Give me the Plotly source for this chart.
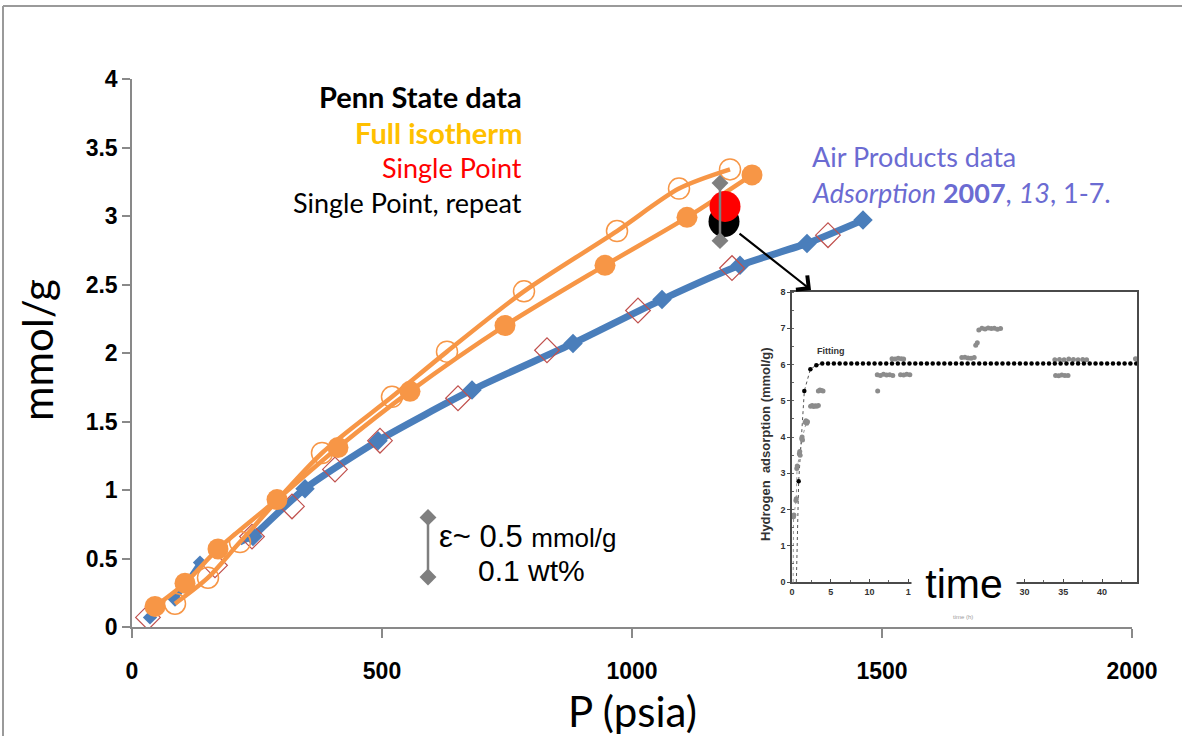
import plotly.graph_objects as go

# ---------------- main chart data ----------------
# Penn State full isotherm (filled orange = adsorption, open orange = desorption)
ps_ads_p = [46, 106, 172, 290, 412, 556, 746, 946, 1110, 1240]
ps_ads_q = [0.15, 0.32, 0.57, 0.93, 1.31, 1.72, 2.20, 2.64, 2.99, 3.30]
ps_des_p = [86, 152, 216, 380, 520, 630, 784, 970, 1094, 1196]
ps_des_q = [0.17, 0.36, 0.62, 1.27, 1.68, 2.01, 2.45, 2.89, 3.20, 3.34]

# Air Products data (filled blue diamonds, open red diamonds)
ap_p = [36, 86, 136, 242, 346, 492, 680, 882, 1060, 1216, 1350, 1462]
ap_q = [0.07, 0.20, 0.47, 0.66, 1.01, 1.36, 1.73, 2.07, 2.39, 2.64, 2.80, 2.97]
ap2_p = [32, 166, 240, 320, 406, 496, 652, 830, 1012, 1200, 1392]
ap2_q = [0.07, 0.45, 0.66, 0.88, 1.15, 1.36, 1.67, 2.02, 2.31, 2.62, 2.86]

# single point measurements
sp_p = [1186]
sp_q = [3.07]
spr_p = [1184]
spr_q = [2.96]

# error bars
err_p = [1176, 1176]
err_q = [2.82, 3.24]
eps_p = [592, 592]
eps_q = [0.365, 0.80]

x_ticks = [0, 500, 1000, 1500, 2000]
y_ticks = [0, 0.5, 1, 1.5, 2, 2.5, 3, 3.5, 4]

# ---------------- inset data (time series) ----------------
fit_t = [0.86, 1.59, 2.37, 3.14, 3.9, 4.65, 5.4, 6.15, 6.9, 7.65, 8.4, 9.15, 9.9, 10.65,
         11.4, 12.15, 12.9, 13.65, 14.4, 15.15, 15.9, 16.65, 17.4, 18.15, 18.9, 19.65,
         20.4, 21.15, 21.9, 22.65, 23.4, 24.15, 24.9, 25.65, 26.4, 27.15, 27.9, 28.65,
         29.4, 30.15, 30.9, 31.65, 32.4, 33.15, 33.9, 34.65, 35.4, 36.15, 36.9, 37.65,
         38.4, 39.15, 39.9, 40.65, 41.4, 42.15, 42.9, 43.65, 44.4]
fit_q = [2.78, 5.27, 5.87, 5.98, 6.03, 6.03, 6.03, 6.03, 6.03, 6.03, 6.03, 6.03, 6.03, 6.03,
         6.03, 6.03, 6.03, 6.03, 6.03, 6.03, 6.03, 6.03, 6.03, 6.03, 6.03, 6.03,
         6.03, 6.03, 6.03, 6.03, 6.03, 6.03, 6.03, 6.03, 6.03, 6.03, 6.03, 6.03,
         6.03, 6.03, 6.03, 6.03, 6.03, 6.03, 6.03, 6.03, 6.03, 6.03, 6.03, 6.03,
         6.03, 6.03, 6.03, 6.03, 6.03, 6.03, 6.03, 6.03, 6.03]
fit_line_t = [0.56, 0.86, 1.59, 2.37, 3.14, 3.9]
fit_line_q = [0.0, 2.78, 5.27, 5.87, 5.98, 6.03]

meas_t = [0.2, 0.25, 0.5, 0.55, 0.62, 0.68, 0.95, 1.0, 1.05, 1.25, 1.3, 1.35,
          1.7, 1.8, 1.9, 2.0, 2.4, 2.6, 2.8, 3.0, 3.2, 3.4, 3.4, 3.6, 3.8, 4.0,
          11.05, 11.0, 11.4, 11.8, 12.2, 12.6, 13.0, 12.9, 13.3, 13.7, 14.1, 14.4,
          14.0, 14.4, 14.8, 15.2, 21.9, 22.3, 22.7, 23.1, 23.5, 23.7, 23.9, 24.1,
          24.5, 24.9, 25.3, 25.7, 26.1, 26.5, 26.9, 34.0, 34.4, 34.8, 35.2, 35.6,
          33.9, 34.5, 35.1, 35.7, 36.3, 36.9, 37.5, 38.0, 44.3]
meas_q = [1.8, 1.85, 2.25, 2.3, 3.13, 3.2, 3.54, 3.6, 3.5, 3.95, 4.0, 3.92,
          4.41, 4.45, 4.38, 4.42, 4.85, 4.87, 4.84, 4.86, 4.85, 4.87, 5.27, 5.3, 5.28, 5.27,
          5.27, 5.72, 5.70, 5.73, 5.71, 5.72, 5.70, 6.16, 6.15, 6.17, 6.16, 6.15,
          5.72, 5.71, 5.73, 5.72, 6.19, 6.20, 6.18, 6.17, 6.19, 6.53, 6.60, 6.95,
          7.00, 6.98, 7.01, 6.99, 7.00, 6.97, 6.99, 5.70, 5.69, 5.71, 5.70, 5.70,
          6.13, 6.14, 6.13, 6.15, 6.14, 6.13, 6.14, 6.13, 6.16]
meas_line_t = [0.15, 0.2, 0.55, 0.65, 1.0, 1.3, 1.85]
meas_line_q = [0.0, 1.8, 2.25, 3.13, 3.54, 3.95, 4.41]

inset_x_ticks = [0, 5, 10, 15, 30, 35, 40]
inset_x_labels = ["0", "5", "10", "1", "30", "35", "40"]   # 15 partly hidden by "time"
inset_y_ticks = [0, 1, 2, 3, 4, 5, 6, 7, 8]

# ---------------- colours / fonts ----------------
ORANGE = "#F79646"
BLUE = "#4A7EBB"
DRED = "#C0504D"
GREY = "#7F7F7F"
CAL = "Lato, 'Open Sans', sans-serif"
ARIAL = "'Liberation Sans', Arial, sans-serif"

W, H = 1182, 736


def px(x):
    return x / W


def py(y):
    return (H - y) / H


fig = go.Figure()

# Air Products: dashed start + thick solid line
fig.add_trace(go.Scatter(x=ap_p[:4], y=ap_q[:4], mode="lines",
                         line=dict(color=BLUE, width=5, dash="dash"),
                         showlegend=False, hoverinfo="skip"))
fig.add_trace(go.Scatter(x=ap_p[3:], y=ap_q[3:], mode="lines+markers",
                         line=dict(color=BLUE, width=7, shape="spline", smoothing=0.6),
                         marker=dict(symbol="diamond", size=15, color=BLUE),
                         showlegend=False))
fig.add_trace(go.Scatter(x=ap_p[:4], y=ap_q[:4], mode="markers",
                         marker=dict(symbol="diamond", size=11, color=BLUE),
                         showlegend=False))
fig.add_trace(go.Scatter(x=ap2_p, y=ap2_q, mode="markers",
                         marker=dict(symbol="diamond-open", size=19, color=DRED,
                                     line=dict(width=1.2, color=DRED)),
                         showlegend=False))

# Penn State full isotherm
fig.add_trace(go.Scatter(x=ps_des_p, y=ps_des_q, mode="lines+markers",
                         line=dict(color=ORANGE, width=4.5, shape="spline", smoothing=0.8),
                         marker=dict(symbol="circle-open", size=21, color=ORANGE,
                                     line=dict(width=1.5, color=ORANGE)),
                         showlegend=False))
fig.add_trace(go.Scatter(x=ps_ads_p, y=ps_ads_q, mode="lines+markers",
                         line=dict(color=ORANGE, width=4.5, shape="spline", smoothing=0.8),
                         marker=dict(symbol="circle", size=21, color=ORANGE),
                         showlegend=False))

# single points
fig.add_trace(go.Scatter(x=spr_p, y=spr_q, mode="markers",
                         marker=dict(symbol="circle", size=31, color="black"),
                         showlegend=False))
fig.add_trace(go.Scatter(x=sp_p, y=sp_q, mode="markers",
                         marker=dict(symbol="circle", size=31, color="#FF0000"),
                         showlegend=False))

# error bars
for ex, ey in ((err_p, err_q), (eps_p, eps_q)):
    fig.add_trace(go.Scatter(x=ex, y=ey, mode="lines+markers",
                             line=dict(color=GREY, width=2.5),
                             marker=dict(symbol="diamond", size=13, color=GREY),
                             showlegend=False))

# ---------------- inset ----------------
fig.add_trace(go.Scatter(x=meas_line_t, y=meas_line_q, xaxis="x2", yaxis="y2", mode="lines",
                         line=dict(color="#9A9A9A", width=1, dash="dot"),
                         showlegend=False, hoverinfo="skip"))
fig.add_trace(go.Scatter(x=fit_line_t, y=fit_line_q, xaxis="x2", yaxis="y2", mode="lines",
                         line=dict(color="#555555", width=1, dash="dot"),
                         showlegend=False, hoverinfo="skip"))
fig.add_trace(go.Scatter(x=meas_t, y=meas_q, xaxis="x2", yaxis="y2", mode="markers",
                         marker=dict(symbol="circle", size=5, color="#8C8C8C"),
                         showlegend=False))
fig.add_trace(go.Scatter(x=fit_t, y=fit_q, xaxis="x2", yaxis="y2", mode="markers",
                         marker=dict(symbol="circle", size=4.5, color="black"),
                         showlegend=False))

TICKFONT = dict(family=ARIAL, size=23, color="black", weight="bold")
INSET_FONT = dict(family=ARIAL, size=9, color="#333333", weight="bold")
fig.update_layout(
    template="none",
    width=W, height=H, autosize=False,
    margin=dict(l=0, r=0, t=0, b=0, pad=0, autoexpand=False),
    paper_bgcolor="white", plot_bgcolor="rgba(0,0,0,0)",
    showlegend=False,
    xaxis=dict(domain=[px(132), px(1132)], range=[0, 2000], tickvals=x_ticks,
               automargin=False, ticklabelstandoff=14,
               showgrid=False, zeroline=False, showline=True, linecolor="#898989",
               linewidth=1.5, ticks="outside", ticklen=9, tickcolor="#898989",
               tickwidth=1.5, tickfont=TICKFONT, anchor="y"),
    yaxis=dict(domain=[py(627), py(79)], range=[0, 4], tickvals=y_ticks,
               automargin=False,
               showgrid=False, zeroline=False, showline=True, linecolor="#898989",
               linewidth=1.5, ticks="outside", ticklen=8, tickcolor="#898989",
               tickwidth=1.5, tickfont=TICKFONT, anchor="x"),
    xaxis2=dict(domain=[px(792), px(1137)], range=[0, 44.5], tickvals=inset_x_ticks,
                ticktext=inset_x_labels, automargin=False,
                showgrid=False, zeroline=False, showline=True, mirror=True,
                linecolor="#4A4A4A", linewidth=1.5, ticks="inside", ticklen=3,
                tickcolor="#4A4A4A", minor=dict(dtick=2.5, ticks="inside", ticklen=2,
                                                tickcolor="#666666"),
                tickfont=INSET_FONT, anchor="y2"),
    yaxis2=dict(domain=[py(582), py(292)], range=[0, 8], tickvals=inset_y_ticks,
                automargin=False,
                showgrid=False, zeroline=False, showline=True, mirror=True,
                linecolor="#4A4A4A", linewidth=1.5, ticks="outside", ticklen=3,
                tickcolor="#4A4A4A", minor=dict(dtick=0.5, ticks="inside", ticklen=2,
                                                tickcolor="#666666"),
                tickfont=INSET_FONT, anchor="x2"),
)


def ptext(x, y, text, size, color="black", family=CAL, xanchor="center", **kw):
    return dict(x=px(x), y=py(y), xref="paper", yref="paper", text=text,
                xanchor=xanchor, yanchor="middle", showarrow=False,
                font=dict(family=family, size=size, color=color), **kw)


ann = []
# axis titles
ann.append(ptext(37, 350, "mmol/g", 42, textangle=-90))
ann.append(ptext(632, 711, "P (psia)", 42))
# Penn State legend text
legend_lines = [
    ("<b>Penn State data</b>", "black", 97, 29),
    ("<b>Full isotherm</b>", "#FFC000", 132, 29),
    ("Single Point", "#FF0000", 167, 27),
    ("Single Point, repeat", "black", 202, 27),
]
for txt, col, yy, sz in legend_lines:
    ann.append(ptext(524, yy, txt, sz, col, xanchor="right"))
# Air Products text
ann.append(ptext(810, 157, "Air Products data", 27, "#6B6BD2", xanchor="left"))
ann.append(ptext(810, 192, "<i>Adsorption</i> <b>2007</b>, <i>13</i>, 1-7.", 27,
                 "#6B6BD2", xanchor="left"))
# epsilon text
ann.append(ptext(437, 536, "ε~ 0.5 <span style='font-size:26px'>mmol/g</span>", 31,
                 family=ARIAL, xanchor="left"))
ann.append(ptext(476, 570, "0.1 wt%", 30, family=ARIAL, xanchor="left"))
# arrow to the inset
ann.append(dict(x=1358, y=2.46, ax=1212, ay=2.88, xref="x", yref="y", axref="x", ayref="y",
                text="", showarrow=True, arrowhead=4, arrowsize=1.6, arrowwidth=2.2,
                arrowcolor="black"))
# inset labels
ann.append(ptext(765, 444, "<b>Hydrogen  adsorption (mmol/g)</b>", 13, "#333333",
                 family=ARIAL, textangle=-90))
ann.append(dict(x=3.0, y=6.36, xref="x2", yref="y2", text="<b>Fitting</b>", xanchor="left",
                yanchor="middle", showarrow=False,
                font=dict(family=ARIAL, size=9, color="#333333")))
ann.append(ptext(963, 617, "time (h)", 6, "#9A9A9A", family=ARIAL))
ann.append(ptext(964, 584, "time", 41, family=ARIAL, bgcolor="white", borderpad=0,
                 width=104, height=32))
fig.update_layout(annotations=ann)

# slide frame (top and left edges)
fig.add_shape(type="line", xref="paper", yref="paper", x0=px(3), x1=1, y0=py(6), y1=py(6),
              line=dict(color="#9A9A9A", width=2))
fig.add_shape(type="line", xref="paper", yref="paper", x0=px(3), x1=px(3), y0=0, y1=py(6),
              line=dict(color="#9A9A9A", width=2))

fig.write_html("out.html", config={"displayModeBar": False},
               post_script="document.body.style.margin='0';"
                           "document.body.style.overflow='hidden';")
